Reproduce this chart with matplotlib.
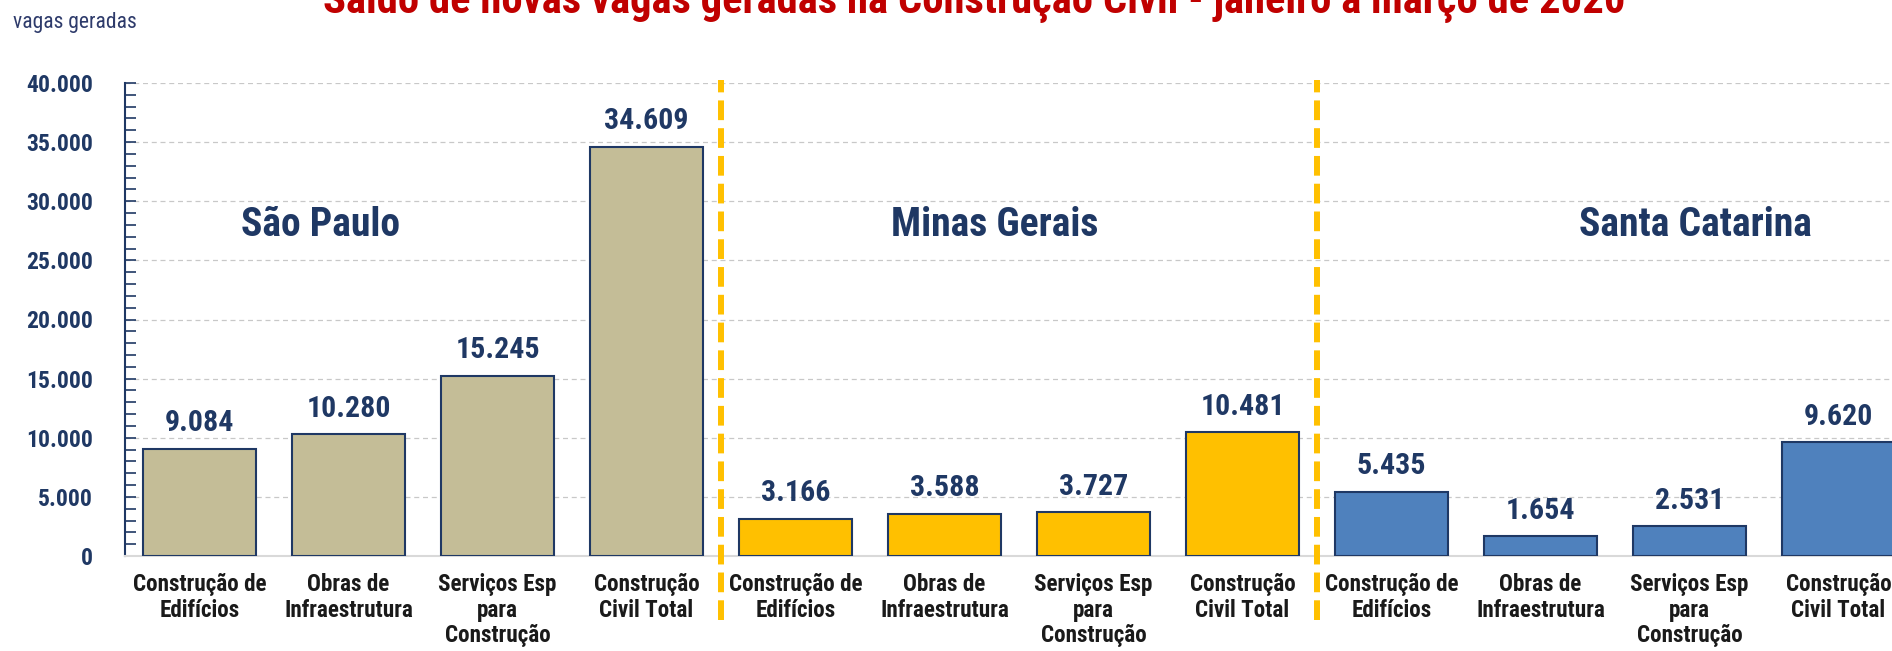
import matplotlib.pyplot as plt
from matplotlib.ticker import MultipleLocator, FuncFormatter

# dados (saldo de vagas, jan-mar 2020)
setores = ["Construção de\nEdifícios", "Obras de\nInfraestrutura",
           "Serviços Esp\npara\nConstrução", "Construção\nCivil Total"]
estados = ["São Paulo", "Minas Gerais", "Santa Catarina"]
sp = [9084, 10280, 15245, 34609]
mg = [3166, 3588, 3727, 10481]
sc = [5435, 1654, 2531, 9620]
cores = ["#C4BD97", "#FFC000", "#4F81BD"]

NAVY = "#1F3864"
plt.rcParams['font.family'] = ["Roboto Condensed", "DejaVu Sans"]

fig = plt.figure(figsize=(18.92, 6.51), dpi=100)
ax = fig.add_axes([125/1892, 95/651, 1788/1892, 473/651])

valores = sp + mg + sc
labels = setores * 3
xs = list(range(len(valores)))
bar_cores = [c for c in cores for _ in range(4)]

ax.bar(xs, valores, width=0.76, color=bar_cores, edgecolor=NAVY, linewidth=1.5, zorder=3)

for x, v in zip(xs, valores):
    txt = f"{v:,}".replace(",", ".")
    ax.text(x, v + 2150, txt, ha='center', va='center', fontsize=21.5,
            fontweight='bold', color=NAVY, zorder=4)

# nomes dos estados
pos_estado = [0.81, 5.34, 10.04]
for px, nome in zip(pos_estado, estados):
    ax.text(px, 28000, nome, ha='center', va='center', fontsize=28.5,
            fontweight='bold', color=NAVY)

# separadores
for sx in [3.5, 7.5]:
    ax.axvline(sx, ymin=-0.135, ymax=1.006, color="#FFC000", linewidth=4.3,
               dashes=(3.3, 1.35), clip_on=False, zorder=5)

ax.set_xlim(-0.5, 11.5)
ax.set_ylim(0, 40000)
ax.set_xticks(xs)
ax.set_xticklabels(labels, fontsize=16.7, fontweight='bold', color="#1A1A1A",
                   linespacing=1.16)
ax.tick_params(axis='x', length=0, pad=12)

ax.yaxis.set_major_locator(MultipleLocator(5000))
ax.yaxis.set_minor_locator(MultipleLocator(1000))
ax.yaxis.set_major_formatter(FuncFormatter(lambda v, p: f"{int(v):,}".replace(",", ".")))
ax.tick_params(axis='y', which='both', direction='in', length=8, width=1.2,
               color=NAVY, labelsize=17, labelcolor=NAVY, pad=23)
for lab in ax.get_yticklabels():
    lab.set_fontweight('bold')

ax.grid(axis='y', color="#C8C8C8", linestyle=(0, (4, 3)), linewidth=0.9, zorder=0)
ax.spines['top'].set_visible(False)
ax.spines['right'].set_visible(False)
ax.spines['left'].set_color(NAVY)
ax.spines['left'].set_linewidth(1.5)
ax.spines['bottom'].set_color("#D9D9D9")
ax.spines['bottom'].set_linewidth(1.5)

fig.text(974/1892, 1 - 13/651, "Saldo de novas vagas geradas na Construção Civil - janeiro a março de 2020",
         ha='center', va='baseline', fontsize=30.7, fontweight='bold', color="#C00000")
fig.text(13/1892, 1 - 28/651, "vagas geradas", ha='left', va='baseline',
         fontsize=15.5, color="#2E3B6B")

fig.savefig("out.png", dpi=100)
